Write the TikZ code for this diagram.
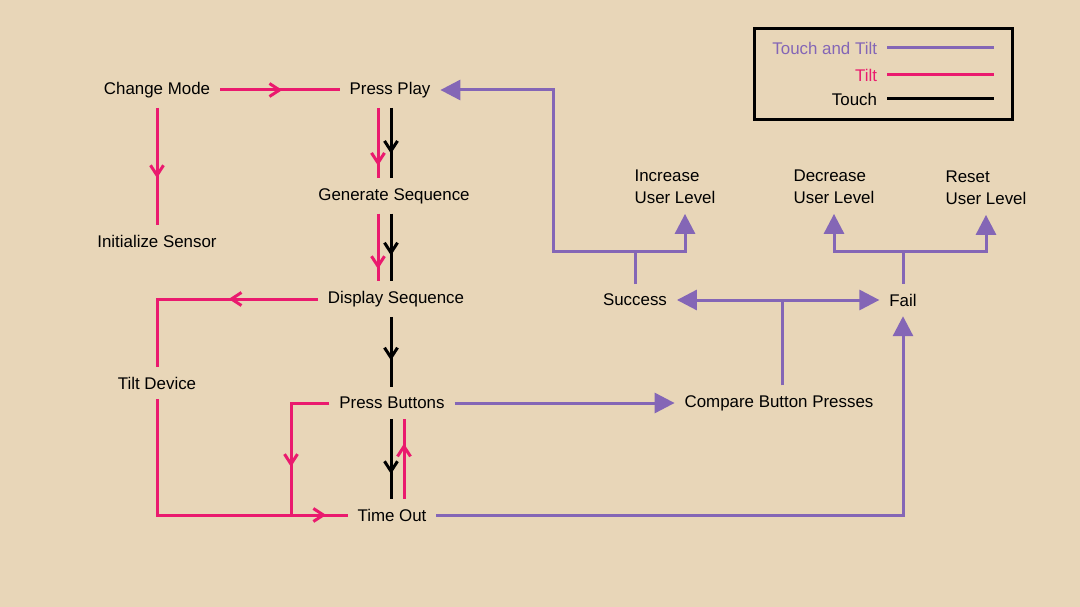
\documentclass[tikz,border=0pt]{standalone}
\usepackage{fontspec}
\setmainfont{Liberation Sans}
\usetikzlibrary{arrows.meta,decorations.markings}
\definecolor{bgbeige}{HTML}{E8D6B8}
\definecolor{tiltpink}{HTML}{EA1A6E}
\definecolor{bothpurple}{HTML}{8466B6}
\tikzset{
  lbl/.style={font=\fontsize{16.9}{22}\selectfont, inner sep=0pt, outer sep=10pt},
  tilt/.style={color=tiltpink, line width=3pt},
  touch/.style={color=black, line width=3pt},
  both/.style={color=bothpurple, line width=3pt},
  midtip/.style={postaction={decorate, decoration={markings,
      mark=at position #1 with {\arrow{Straight Barb[length=10pt,width=13pt]}}}}},
  fulltip/.style={-{Triangle[length=20pt,width=20pt]}}
}
\begin{document}
\begin{tikzpicture}[x=1pt, y=-1pt]
  \fill[bgbeige] (0,0) rectangle (1080,607);
  \useasboundingbox (0,0) rectangle (1080,607);

  % states
  \node[lbl] (cm) at (157,90) {Change Mode};
  \node[lbl] (is) at (157,241) {Initialize Sensor};
  \node[lbl] (pp) at (390,90) {Press Play};
  \node[lbl] (gs) at (394,196) {Generate Sequence};
  \node[lbl] (ds) at (396,299) {Display Sequence};
  \node[lbl] (td) at (157,383) {Tilt Device};
  \node[lbl] (pb) at (392,403) {Press Buttons};
  \node[lbl] (to) at (392,515) {Time Out};
  \node[lbl] (cbp) at (779,403) {Compare Button Presses};
  \node[lbl] (su) at (635,300) {Success};
  \node[lbl] (fa) at (903,300) {Fail};
  \node[lbl, align=left] (iul) at (675,187) {Increase\\User Level};
  \node[lbl, align=left] (dul) at (834,187) {Decrease\\User Level};
  \node[lbl, align=left] (rul) at (986,188) {Reset\\User Level};

  \coordinate (join) at (291,515);
  \coordinate (sf) at (782,300);
  \coordinate (sbar) at (638,251);
  \coordinate (fbar) at (905,251);
  \coordinate (ppturn) at (553,90);

  % tilt and touch paths
  \draw[tilt, midtip=0.52] (cm) -- (pp);
  \draw[tilt, midtip=0.6] (cm) -- (is);
  \draw[tilt, midtip=0.82] ([xshift=-12]pp.south) -- ([xshift=-12]pp.south |- gs.north);
  \draw[touch, midtip=0.65] ([xshift=1]pp.south) -- ([xshift=1]pp.south |- gs.north);
  \draw[tilt, midtip=0.82] ([xshift=-16]gs.south) -- ([xshift=-16]gs.south |- ds.north);
  \draw[touch, midtip=0.62] ([xshift=-3]gs.south) -- ([xshift=-3]gs.south |- ds.north);
  \draw[touch, midtip=0.62] ([xshift=-5]ds.south) -- ([xshift=-5]ds.south |- pb.north);
  \draw[tilt, midtip=0.39] (ds.west) -| (td.north);
  \draw[tilt, midtip=0.93] (td.south) |- (to.west);
  \draw[tilt, midtip=0.68] (pb.west) -| (join);
  \draw[touch, midtip=0.69] ([xshift=-1]pb.south) -- ([xshift=-1]to.north);
  \draw[tilt, midtip=0.69] ([xshift=12]to.north) -- ([xshift=12]pb.south);

  % touch and tilt paths
  \draw[both, fulltip] (pb.east) -- (cbp.west);
  \draw[both] (cbp.north -| sf) -- (sf);
  \draw[both, fulltip] (sf) -- (su.east);
  \draw[both, fulltip] (sf) -- (fa.west);
  \draw[both] (su.north) -- (su.north |- sbar);
  \draw[both, fulltip] (su.north |- sbar) -| ([xshift=10]iul.south);
  \draw[both, fulltip] (su.north |- sbar) -| (ppturn) -- (pp.east);
  \draw[both] (fa.north) -- (fa.north |- fbar);
  \draw[both, fulltip] (fa.north |- fbar) -| (dul.south);
  \draw[both, fulltip] (fa.north |- fbar) -| (rul.south);
  \draw[both, fulltip] (to.east) -| (fa.south);

  % legend
  \draw[line width=3pt] (754,29) rectangle (1012,120);
  \node[lbl, anchor=east, text=bothpurple] (lboth) at (887,48) {Touch and Tilt};
  \node[lbl, anchor=east, text=tiltpink] (ltilt) at (887,75) {Tilt};
  \node[lbl, anchor=east] (ltouch) at (887,99) {Touch};
  \draw[both] (lboth.east) -- ++(107,0);
  \draw[tilt] (ltilt.east) -- ++(107,0);
  \draw[touch] (ltouch.east) -- ++(107,0);
\end{tikzpicture}
\end{document}
